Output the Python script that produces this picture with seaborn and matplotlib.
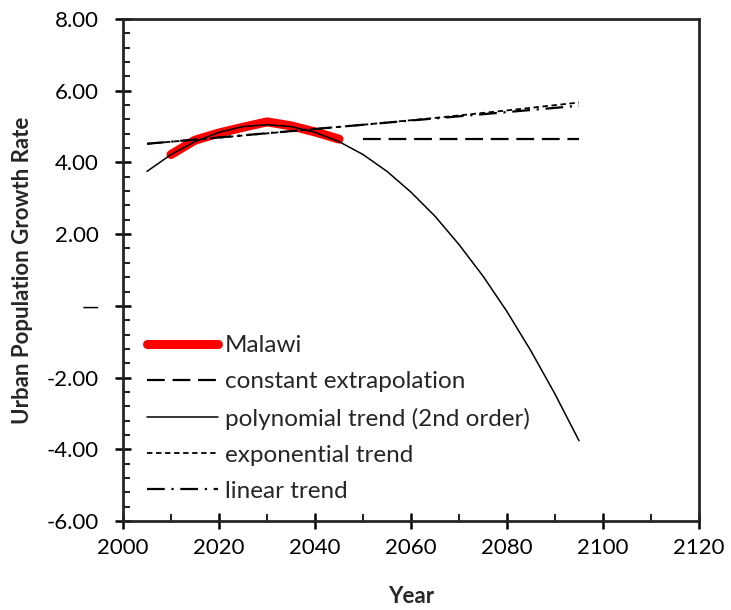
import pandas as pd
import numpy as np
import matplotlib.pyplot as plt
import matplotlib.ticker as mticker
import seaborn as sns

# Malawi urban population growth rate (5-year steps)
malawi_years = [2010, 2015, 2020, 2025, 2030, 2035, 2040, 2045]
malawi_rate = [4.22, 4.62, 4.82, 4.98, 5.13, 5.02, 4.85, 4.65]

# constant extrapolation of the last value
const_years = [2050, 2095]
const_rate = [4.65, 4.65]

# polynomial trend (2nd order)
poly_years = [2005, 2010, 2015, 2020, 2025, 2030, 2035, 2040, 2045, 2050,
              2055, 2060, 2065, 2070, 2075, 2080, 2085, 2090, 2095]
poly_rate = [3.75, 4.22, 4.58, 4.84, 5.00, 5.05, 5.00, 4.84, 4.58, 4.22,
             3.75, 3.17, 2.50, 1.71, 0.83, -0.16, -1.26, -2.46, -3.76]

# exponential trend
exp_years = [2005, 2020, 2035, 2050, 2065, 2080, 2095]
exp_rate = [4.52, 4.69, 4.87, 5.05, 5.24, 5.45, 5.67]

# linear trend
lin_years = [2005, 2095]
lin_rate = [4.52, 5.58]

sns.set_style("ticks")
plt.rcParams['font.family'] = ['Lato', 'DejaVu Sans']

fig = plt.figure(figsize=(7.31, 6.10), dpi=100)
ax = fig.add_axes([0.1683, 0.1459, 0.7879, 0.8230])

sns.lineplot(x=malawi_years, y=malawi_rate, ax=ax, color='#ff0000', lw=6.5,
             solid_capstyle='round', label='Malawi')
sns.lineplot(x=const_years, y=const_rate, ax=ax, color='black', lw=1.6,
             linestyle=(0, (8, 3.5)), label='constant extrapolation')
sns.lineplot(x=poly_years, y=poly_rate, ax=ax, color='black', lw=1.1,
             label='polynomial trend (2nd order)')
sns.lineplot(x=exp_years, y=exp_rate, ax=ax, color='black', lw=1.3,
             linestyle=(0, (3, 2)), label='exponential trend')
sns.lineplot(x=lin_years, y=lin_rate, ax=ax, color='black', lw=1.6,
             linestyle=(0, (8, 3, 1, 3)), label='linear trend')

ax.set_xlim(2000, 2120)
ax.set_ylim(-6, 8)
ax.xaxis.set_major_locator(mticker.MultipleLocator(20))
ax.xaxis.set_minor_locator(mticker.MultipleLocator(10))
ax.yaxis.set_major_locator(mticker.MultipleLocator(2))
ax.yaxis.set_minor_locator(mticker.MultipleLocator(0.4))
ax.yaxis.set_major_formatter(mticker.FuncFormatter(
    lambda v, p: '\u2014' if abs(v) < 1e-9 else '{:.2f}'.format(v)))

for s in ax.spines.values():
    s.set_linewidth(2.0)
ax.tick_params(which='major', direction='inout', length=11, width=1.8,
               labelsize=16, colors='black')
ax.tick_params(axis='y', which='major', pad=12)
ax.tick_params(axis='x', which='major', pad=7)
ax.tick_params(which='minor', direction='in', length=5, width=1.5)

ax.set_xlabel('Year', fontsize=16, fontweight='bold', labelpad=20)
ax.set_ylabel('Urban Population Growth Rate', fontsize=16, fontweight='bold', labelpad=10)

ax.legend(loc='upper left', bbox_to_anchor=(0.042, 0.37), frameon=False,
          fontsize=17.5, handlelength=2.9, handletextpad=0.3, labelspacing=0.62,
          borderaxespad=0, borderpad=0)

plt.savefig('out.png', dpi=100)
